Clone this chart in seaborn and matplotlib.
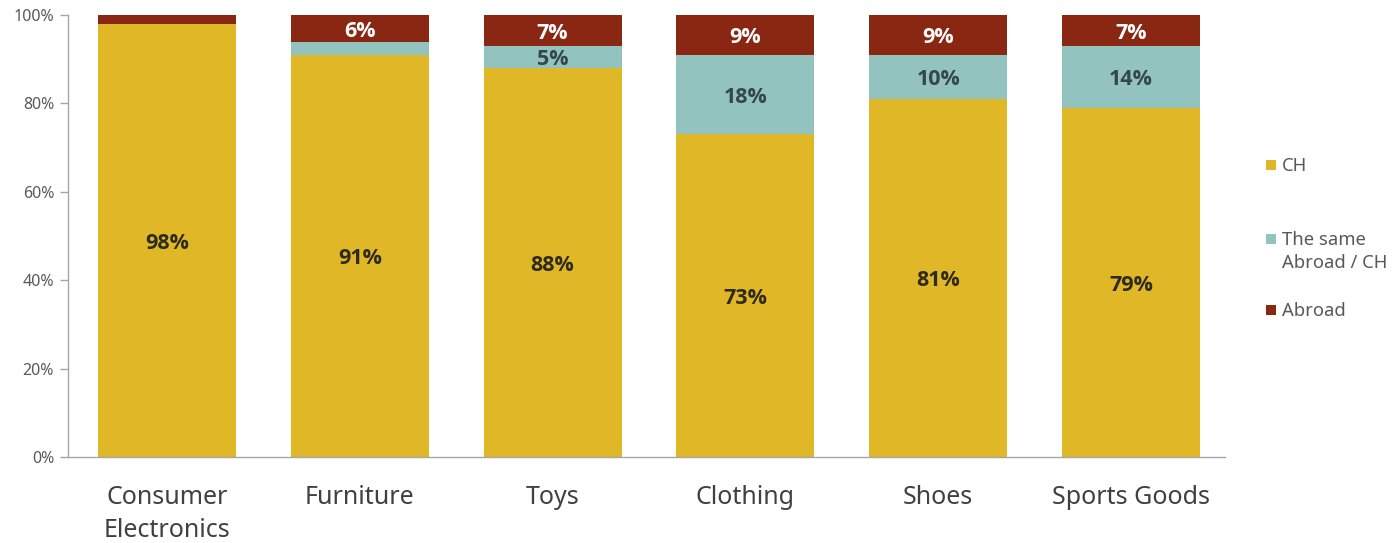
import matplotlib
matplotlib.use("Agg")
import matplotlib.pyplot as plt
import seaborn as sns
import pandas as pd
import numpy as np
from matplotlib.patches import Rectangle

categories = ["Consumer\nElectronics", "Furniture", "Toys", "Clothing", "Shoes", "Sports Goods"]
ch = [98, 91, 88, 73, 81, 79]
same = [0, 3, 5, 18, 10, 14]
abroad = [2, 6, 7, 9, 9, 7]
yticks = [0, 20, 40, 60, 80, 100]
ytick_labels = ["0%", "20%", "40%", "60%", "80%", "100%"]
series_names = ["CH", "The same\nAbroad / CH", "Abroad"]

C_CH = "#DFB727"
C_SAME = "#93C3BE"
C_ABROAD = "#8A2712"

sns.set_theme(style="white")
plt.rcParams["font.family"] = ["Noto Sans", "DejaVu Sans"]

df = pd.DataFrame({"category": categories, "ch": ch, "same": same, "abroad": abroad})
df["lvl1"] = df["ch"]
df["lvl2"] = df["ch"] + df["same"]
df["lvl3"] = df["ch"] + df["same"] + df["abroad"]

fig = plt.figure(figsize=(13.95, 5.43), dpi=100)
ax = fig.add_axes([68 / 1395, 86 / 543, (1225 - 68) / 1395, (457 - 15) / 543])

width = 0.716
# stacked bars: draw cumulative totals back to front
sns.barplot(data=df, x="category", y="lvl3", color=C_ABROAD, width=width, saturation=1, ax=ax)
sns.barplot(data=df, x="category", y="lvl2", color=C_SAME, width=width, saturation=1, ax=ax)
sns.barplot(data=df, x="category", y="lvl1", color=C_CH, width=width, saturation=1, ax=ax)
for p in ax.patches:
    p.set_edgecolor("none")

ax.set_ylim(0, 100)
ax.set_xlim(-0.513, len(categories) - 0.513)
ax.set_yticks(yticks)
ax.set_yticklabels(ytick_labels)
ax.set_xlabel("")
ax.set_ylabel("")

for s in ["top", "right"]:
    ax.spines[s].set_visible(False)
for s in ["left", "bottom"]:
    ax.spines[s].set_color("#A6A6A6")
    ax.spines[s].set_linewidth(1.0)

ax.tick_params(axis="y", which="both", left=True, length=6, width=1, color="#A6A6A6",
               labelsize=11.5, labelcolor="#595959", pad=4)
ax.tick_params(axis="x", which="both", bottom=False, labelsize=18, labelcolor="#404040", pad=14)
for lbl in ax.get_xticklabels():
    lbl.set_linespacing(1.45)
    lbl.set_va("top")

# value labels centred in each segment
label_kw = dict(ha="center", va="center", fontsize=15.5, fontweight="bold",
                family=["Open Sans", "DejaVu Sans"], textcoords="offset points", xytext=(0, -2))
for i in range(len(categories)):
    ax.annotate(f"{ch[i]}%", (i, ch[i] / 2), color="#2E2A1E", **label_kw)
    if same[i] >= 4:
        ax.annotate(f"{same[i]}%", (i, ch[i] + same[i] / 2), color="#34474B", **label_kw)
    if abroad[i] >= 4:
        ax.annotate(f"{abroad[i]}%", (i, ch[i] + same[i] + abroad[i] / 2), color="white", **label_kw)

# legend on the right
legend_items = [(C_CH, series_names[0], 165), (C_SAME, series_names[1], 239), (C_ABROAD, series_names[2], 310)]
for color, name, ypx in legend_items:
    sq = 10
    fig.patches.append(Rectangle((1266 / 1395, (543 - ypx - sq / 2) / 543), sq / 1395, sq / 543,
                                 transform=fig.transFigure, facecolor=color, edgecolor="none"))
    fig.text(1282 / 1395, (543 - ypx) / 543 + 0.014, name, ha="left", va="top",
             fontsize=13.3, color="#595959", linespacing=1.3)

fig.savefig("out.png", dpi=100)
